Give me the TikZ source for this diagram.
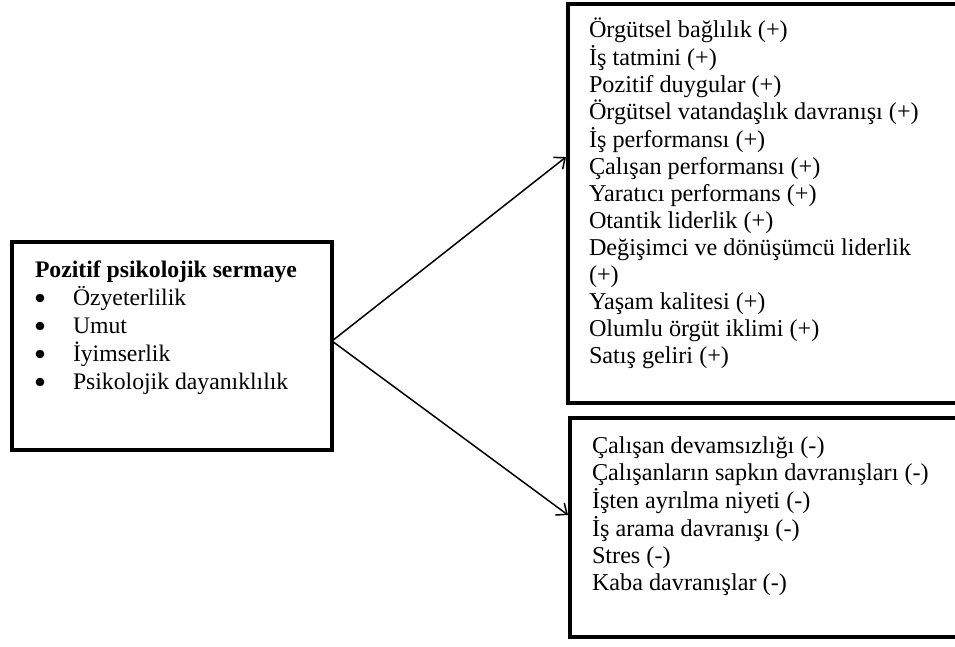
\documentclass[tikz,border=0pt]{standalone}
\usepackage{fontspec}
\setmainfont{Liberation Serif}
\usetikzlibrary{arrows.meta}
\begin{document}
\begin{tikzpicture}[x=1pt,y=-1pt,
  box/.style={draw, line width=4pt, rectangle, outer sep=0pt, inner sep=0pt, anchor=north west},
  txt/.style={anchor=base west, inner sep=0pt, outer sep=0pt, font=\fontsize{24.2}{27}\selectfont},
  bul/.style={circle, fill, inner sep=0pt, minimum size=8.6pt},
  conn/.style={line width=1.5pt, -{Straight Barb[length=9pt,width=15pt,line width=1.5pt]}}]
\useasboundingbox (0,0) rectangle (955,646);
\clip (0,0) rectangle (955,646);
% boxes
\node[box, minimum width=320pt, minimum height=208pt] (left) at (12,242) {};
\node[box, minimum width=540pt, minimum height=399pt] (top) at (568,4) {};
\node[box, minimum width=540pt, minimum height=219pt] (bot) at (570,418) {};
% texts
\node[txt, font=\fontsize{23.7}{28}\selectfont] (lefttext) at (35,277) {\begin{tabular}[t]{@{}l@{}}
\textbf{Pozitif psikolojik sermaye}\\
\hspace*{38pt}Özyeterlilik\\
\hspace*{38pt}Umut\\
\hspace*{38pt}İyimserlik\\
\hspace*{38pt}Psikolojik dayanıklılık
\end{tabular}};
\node[bul] (b1) at (40,298) {};
\node[bul] (b2) at (40,326) {};
\node[bul] (b3) at (40,354) {};
\node[bul] (b4) at (40,382) {};
\node[txt] (toptext) at (589,37) {\begin{tabular}[t]{@{}l@{}}
Örgütsel bağlılık (+)\\
İş tatmini (+)\\
Pozitif duygular (+)\\
Örgütsel vatandaşlık davranışı (+)\\
İş performansı (+)\\
Çalışan performansı (+)\\
Yaratıcı performans (+)\\
Otantik liderlik (+)\\
Değişimci ve dönüşümcü liderlik\\
(+)\\
Yaşam kalitesi (+)\\
Olumlu örgüt iklimi (+)\\
Satış geliri (+)
\end{tabular}};
\node[txt] (bottext) at (592,453) {\begin{tabular}[t]{@{}l@{}}
Çalışan devamsızlığı (-)\\
Çalışanların sapkın davranışları (-)\\
İşten ayrılma niyeti (-)\\
İş arama davranışı (-)\\
Stres (-)\\
Kaba davranışlar (-)
\end{tabular}};
% connectors
\coordinate (src) at ([yshift=5pt]left.east);
\draw[conn] (src) -- ([xshift=-2pt,yshift=46.5pt]top.west);
\draw[conn] (src) -- ([xshift=-2pt,yshift=12.5pt]bot.west);
\end{tikzpicture}
\end{document}
